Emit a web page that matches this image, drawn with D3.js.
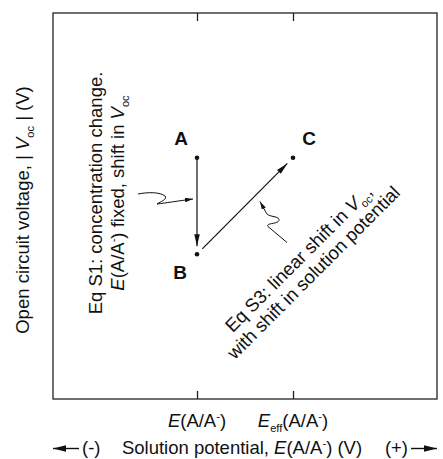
<!DOCTYPE html>
<html>
<head>
<meta charset="utf-8">
<script src="https://cdnjs.cloudflare.com/ajax/libs/d3/7.8.5/d3.min.js"></script>
<style>
  body { margin: 0; background: #fff; }
  text { font-family: "Liberation Sans", Arial, Helvetica, sans-serif; fill: #111; }
</style>
</head>
<body>
<div id="chart"></div>
<script>
// states on the diagram (potential, voltage in arbitrary units)
var pointNames = ["A", "B", "C"];
var potential = [3, 3, 5];
var voltage = [5, 3, 5];
// transitions between states
var arrowFrom = ["A", "B"];
var arrowTo = ["B", "C"];
// axis ticks
var tickValues = [3, 5];
var tickLabels = [
    [{t: "E", i: true}, {t: "(A/A"}, {t: "-", s: "sup"}, {t: ")"}],
    [{t: "E", i: true}, {t: "eff", s: "sub"}, {t: "(A/A"}, {t: "-", s: "sup"}, {t: ")"}]
];

var margin = {top: 13, right: 6, bottom: 60, left: 53};
var W = 443, H = 459;
var width = W - margin.left - margin.right,
    height = H - margin.top - margin.bottom;
var fs = 18.5;

var svg = d3.select("#chart").append("svg")
    .attr("width", W)
    .attr("height", H);

var defs = svg.append("defs");
function marker(id, len, wid) {
    defs.append("marker")
        .attr("id", id)
        .attr("markerUnits", "userSpaceOnUse")
        .attr("markerWidth", len).attr("markerHeight", wid)
        .attr("viewBox", "0 0 " + len + " " + wid)
        .attr("refX", len).attr("refY", wid / 2)
        .attr("orient", "auto")
        .append("path")
        .attr("d", "M0,0L" + len + "," + (wid / 2) + "L0," + wid + "Z")
        .attr("fill", "#111");
}
marker("head", 12, 5.5);
marker("big", 13, 6.5);
marker("small", 8, 4.5);

var g = svg.append("g").attr("transform", "translate(" + margin.left + "," + margin.top + ")");

var x = d3.scaleLinear().domain([0, 8]).range([0, width]);
var y = d3.scaleLinear().domain([0, 8]).range([height, 0]);

// rich text helper: italics, sub/superscripts
function rich(sel, parts, size) {
    var t = sel.append("text").attr("font-size", size);
    var shift = 0;
    parts.forEach(function(p) {
        var ts = t.append("tspan").text(p.t);
        var target = p.s === "sup" ? -0.38 * size : p.s === "sub" ? 0.28 * size : 0;
        if (target - shift !== 0) ts.attr("dy", target - shift);
        shift = target;
        if (p.s) ts.attr("font-size", size * 0.6);
        if (p.i) ts.attr("font-style", "italic");
    });
    return t;
}

// frame + ticks
g.append("rect")
    .attr("width", width).attr("height", height)
    .attr("fill", "none").attr("stroke", "#222").attr("stroke-width", 1.3);

var xBottom = d3.axisBottom(x).tickValues(tickValues).tickSize(-8).tickFormat("");
var xTop = d3.axisTop(x).tickValues(tickValues).tickSize(-8).tickFormat("");
g.append("g").attr("transform", "translate(0," + height + ")").call(xBottom)
    .call(a => a.select(".domain").remove());
g.append("g").call(xTop).call(a => a.select(".domain").remove());
g.selectAll(".tick line").attr("stroke", "#222").attr("stroke-width", 1.3);

tickValues.forEach(function(v, i) {
    rich(g, tickLabels[i], fs)
        .attr("x", x(v)).attr("y", height + 28)
        .attr("text-anchor", "middle");
});

// axis titles
rich(svg, [{t: "Open circuit voltage, | "}, {t: "V", i: true}, {t: "oc", s: "sub"}, {t: " | (V)"}], fs)
    .attr("text-anchor", "middle")
    .attr("transform", "translate(29," + (margin.top + height / 2 + 4) + ") rotate(-90)");

var bottomY = H - 5;
rich(svg, [{t: "Solution potential, "}, {t: "E", i: true}, {t: "(A/A"}, {t: "-", s: "sup"}, {t: ") (V)"}], fs)
    .attr("text-anchor", "middle")
    .attr("x", 242).attr("y", bottomY);
svg.append("text").attr("font-size", fs).attr("x", 82).attr("y", bottomY).text("(-)");
svg.append("text").attr("font-size", fs).attr("x", 408).attr("y", bottomY)
    .attr("text-anchor", "end").text("(+)");
svg.append("line")
    .attr("x1", 79).attr("x2", margin.left).attr("y1", bottomY - 5.5).attr("y2", bottomY - 5.5)
    .attr("stroke", "#111").attr("stroke-width", 1.4).attr("marker-end", "url(#big)");
svg.append("line")
    .attr("x1", 411).attr("x2", margin.left + width).attr("y1", bottomY - 5.5).attr("y2", bottomY - 5.5)
    .attr("stroke", "#111").attr("stroke-width", 1.4).attr("marker-end", "url(#big)");

// points
var pts = pointNames.map(function(n, i) {
    return {name: n, px: x(potential[i]), py: y(voltage[i])};
});
var byName = {};
pts.forEach(function(p) { byName[p.name] = p; });

// arrows between states
var arrows = arrowFrom.map(function(f, i) {
    var a = byName[f], b = byName[arrowTo[i]];
    var dx = b.px - a.px, dy = b.py - a.py, len = Math.sqrt(dx * dx + dy * dy);
    var ux = dx / len, uy = dy / len;
    var s0 = i === 0 ? 0 : 7.5, s1 = 8;
    return {x1: a.px + ux * s0, y1: a.py + uy * s0, x2: b.px - ux * s1, y2: b.py - uy * s1,
            mx: (a.px + b.px) / 2, my: (a.py + b.py) / 2};
});
g.selectAll(".arrow").data(arrows).enter().append("line")
    .attr("class", "arrow")
    .attr("x1", d => d.x1).attr("y1", d => d.y1)
    .attr("x2", d => d.x2).attr("y2", d => d.y2)
    .attr("stroke", "#111").attr("stroke-width", 1.2)
    .attr("marker-end", "url(#head)");

g.selectAll(".dot").data(pts).enter().append("circle")
    .attr("class", "dot")
    .attr("cx", d => d.px).attr("cy", d => d.py).attr("r", 2.3)
    .attr("fill", "#111");

var labelOff = {A: [-16, -13], B: [-17, 25], C: [16, -13]};
g.selectAll(".plabel").data(pts).enter().append("text")
    .attr("class", "plabel")
    .attr("x", d => d.px + labelOff[d.name][0])
    .attr("y", d => d.py + labelOff[d.name][1])
    .attr("text-anchor", "middle")
    .attr("font-size", 19).attr("font-weight", "bold")
    .text(d => d.name);

// squiggly leaders, anchored near the arrow midpoints
var leaders = [
    {ax: arrows[0].mx - 4, ay: arrows[0].my - 7,
     d: "M-55,-5C-45,-7 -33,-7 -28,-3C-25,0 -33,3 -36,5C-28,4 -15,2 0,0"},
    {ax: arrows[1].mx + 15, ay: arrows[1].my - 4.5,
     d: "M27,41L8,25C5,21 20,23 19,18C18,14 8,16 6,11L0,0"}
];
g.selectAll(".leader").data(leaders).enter().append("path")
    .attr("class", "leader")
    .attr("transform", d => "translate(" + d.ax + "," + d.ay + ")")
    .attr("d", d => d.d)
    .attr("fill", "none").attr("stroke", "#111").attr("stroke-width", 1)
    .attr("marker-end", "url(#small)");

// annotation texts
var s1 = svg.append("g");
rich(s1, [{t: "Eq S1: concentration change."}], fs)
    .attr("text-anchor", "middle")
    .attr("transform", "translate(102,193) rotate(-90)");
rich(s1, [{t: "E", i: true}, {t: "(A/A"}, {t: "-", s: "sup"}, {t: ") fixed, shift in "}, {t: "V", i: true}, {t: "oc", s: "sub"}], fs)
    .attr("text-anchor", "middle")
    .attr("transform", "translate(124,193) rotate(-90)");

var s3 = svg.append("g");
rich(s3, [{t: "Eq S3: linear shift in "}, {t: "V", i: true}, {t: "oc", s: "sub"}, {t: ","}], fs)
    .attr("text-anchor", "middle")
    .attr("transform", "translate(303,263) rotate(-45)");
rich(s3, [{t: "with shift in solution potential"}], fs)
    .attr("text-anchor", "middle")
    .attr("transform", "translate(318,277) rotate(-45)");
</script>
</body>
</html>
